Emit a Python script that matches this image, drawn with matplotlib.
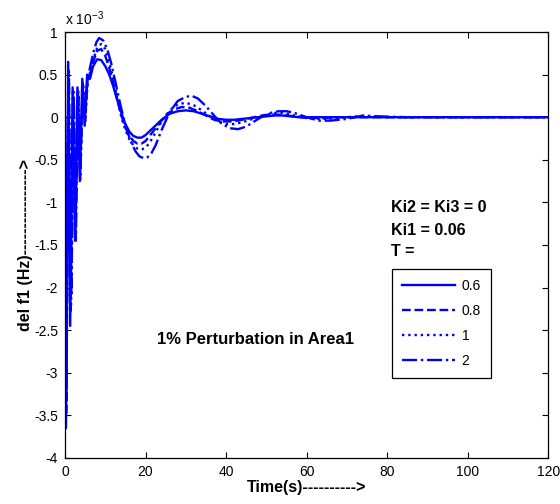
import matplotlib
matplotlib.use('Agg')
import matplotlib.pyplot as plt

plt.rcParams['font.family'] = ['Liberation Sans', 'DejaVu Sans']
plt.rcParams['mathtext.default'] = 'regular'

# время, с
t_06 = [0, 0.25, 0.8, 1.3, 1.9, 2.5, 3.1, 3.7, 4.3, 4.9, 5.5, 6.2, 7, 8, 9, 10, 11, 12, 13, 14,
        15, 16, 17, 18, 19, 20, 22, 24, 26, 28, 30, 32, 34, 36, 38, 40, 42, 44, 46, 48,
        50, 52, 54, 56, 58, 60, 70, 120]
# del f1, x 10^-3 Гц
v_06 = [0, -3.65, 0.65, -2.45, 0.35, -1.45, 0.35, -0.75, 0.45, -0.1, 0.5, 0.45, 0.6, 0.68, 0.67, 0.6, 0.5, 0.36, 0.2, 0.05,
        -0.08, -0.17, -0.22, -0.24, -0.24, -0.21, -0.12, -0.03, 0.04, 0.07, 0.08, 0.07, 0.04, 0.01, -0.02, -0.03, -0.03, -0.02, -0.01, 0.0,
        0.01, 0.02, 0.02, 0.01, 0.0, 0.0, 0.0, 0.0]

t_08 = [0, 0.3, 0.9, 1.4, 2.0, 2.6, 3.2, 3.8, 4.4, 5.0, 5.6, 6.3, 7, 8, 9, 10, 11, 12, 13, 14,
        15, 16, 17, 18, 19, 20, 21, 23, 25, 27, 29, 31, 33, 35, 37, 39, 41, 43, 45, 47,
        49, 51, 53, 55, 57, 60, 64, 68, 75, 120]
v_08 = [0, -3.5, 0.55, -2.3, 0.3, -1.3, 0.3, -0.6, 0.4, -0.05, 0.45, 0.5, 0.65, 0.78, 0.8, 0.72, 0.58, 0.4, 0.2, 0.02,
        -0.12, -0.22, -0.28, -0.31, -0.31, -0.28, -0.22, -0.1, 0.02, 0.09, 0.12, 0.11, 0.07, 0.02, -0.03, -0.05, -0.05, -0.04, -0.02, 0.0,
        0.02, 0.03, 0.03, 0.02, 0.01, -0.01, -0.01, 0.0, 0.0, 0.0]

t_1 = [0, 0.3, 0.9, 1.5, 2.1, 2.7, 3.3, 3.9, 4.5, 5.1, 5.7, 6.4, 7.2, 8, 9, 10, 11, 12, 13, 14,
       15, 16, 17, 18, 19, 20, 21, 22, 24, 26, 28, 30, 32, 34, 36, 38, 40, 42, 44, 46,
       48, 50, 52, 54, 56, 58, 61, 64, 68, 72, 80, 120]
v_1 = [0, -3.4, 0.5, -2.2, 0.3, -1.2, 0.3, -0.55, 0.4, 0.0, 0.45, 0.55, 0.7, 0.82, 0.86, 0.8, 0.65, 0.45, 0.22, 0.0,
       -0.15, -0.26, -0.33, -0.37, -0.38, -0.36, -0.3, -0.22, -0.05, 0.08, 0.15, 0.17, 0.14, 0.08, 0.01, -0.05, -0.08, -0.08, -0.06, -0.03,
       0.0, 0.03, 0.05, 0.05, 0.03, 0.01, -0.02, -0.02, -0.01, 0.01, 0.0, 0.0]

t_2 = [0, 0.35, 1.0, 1.6, 2.2, 2.7, 3.3, 3.8, 4.4, 5.0, 5.6, 6.3, 7.0, 7.8, 8.5, 9.5, 10.5, 11.5, 12.5, 13.5,
       14.5, 15.5, 16.5, 17.5, 18.5, 19.5, 20.5, 21.5, 22.5, 24, 26, 28, 30, 31.5, 33, 35, 37, 39, 41, 43,
       45, 47, 49, 51, 53, 55, 57, 60, 63, 66, 70, 74, 78, 85, 120]
v_2 = [0, -3.3, 0.45, -2.1, 0.25, -1.45, 0.25, -0.73, 0.35, 0.05, 0.45, 0.6, 0.75, 0.88, 0.93, 0.9, 0.8, 0.63, 0.42, 0.2,
       0.0, -0.17, -0.3, -0.4, -0.46, -0.48, -0.47, -0.42, -0.33, -0.15, 0.06, 0.19, 0.24, 0.25, 0.22, 0.13, 0.02, -0.08, -0.13, -0.14,
       -0.11, -0.05, 0.01, 0.05, 0.07, 0.07, 0.05, 0.0, -0.04, -0.04, -0.02, 0.02, 0.01, 0.0, 0.0]

legend_labels = ['0.6', '0.8', '1', '2']
x_ticks = [0, 20, 40, 60, 80, 100, 120]
y_ticks = [-4, -3.5, -3, -2.5, -2, -1.5, -1, -0.5, 0, 0.5, 1]
y_tick_labels = ['-4', '-3.5', '-3', '-2.5', '-2', '-1.5', '-1', '-0.5', '0', '0.5', '1']

fig = plt.figure(figsize=(5.6, 5.04), dpi=100)
ax = fig.add_axes([0.116, 0.0913, 0.863, 0.8452])

blue = '#0000ff'
ax.plot(t_06, v_06, '-', color=blue, lw=1.7, label=legend_labels[0])
ax.plot(t_08, v_08, '--', color=blue, lw=1.7, label=legend_labels[1])
ax.plot(t_1, v_1, ':', color=blue, lw=1.7, label=legend_labels[2])
ax.plot(t_2, v_2, '-.', color=blue, lw=1.7, label=legend_labels[3])

ax.set_xlim(0, 120)
ax.set_ylim(-4, 1)
ax.set_xticks(x_ticks)
ax.set_xticklabels([str(x) for x in x_ticks])
ax.set_yticks(y_ticks)
ax.set_yticklabels(y_tick_labels)
ax.tick_params(direction='in', length=4, width=0.8, top=True, right=True, labelsize=10, pad=5)
for s in ax.spines.values():
    s.set_linewidth(0.9)

ax.set_xlabel('Time(s)---------->', fontsize=11.5, fontweight='bold', labelpad=1)
ax.set_ylabel('del f1 (Hz)---------------->', fontsize=11.5, fontweight='bold', labelpad=1)

ax.text(0.0, 1.01, r'x 10$^{-3}$', transform=ax.transAxes, ha='left', va='bottom', fontsize=10)

ax.text(0.675, 0.587, 'Ki2 = Ki3 = 0', transform=ax.transAxes, fontsize=11.5, fontweight='bold', va='center')
ax.text(0.675, 0.535, 'Ki1 = 0.06', transform=ax.transAxes, fontsize=11.5, fontweight='bold', va='center')
ax.text(0.675, 0.484, 'T =', transform=ax.transAxes, fontsize=11.5, fontweight='bold', va='center')
ax.text(0.395, 0.279, '1% Perturbation in Area1', transform=ax.transAxes, fontsize=12,
        fontweight='bold', ha='center', va='center')

leg = ax.legend(loc='upper left', bbox_to_anchor=(0.677, 0.444), borderaxespad=0, fancybox=False,
                edgecolor='black', framealpha=1, fontsize=10, handlelength=3.8, labelspacing=0.8,
                borderpad=0.7, handletextpad=0.5)
leg.get_frame().set_linewidth(0.9)

plt.savefig('out.png', dpi=100)
